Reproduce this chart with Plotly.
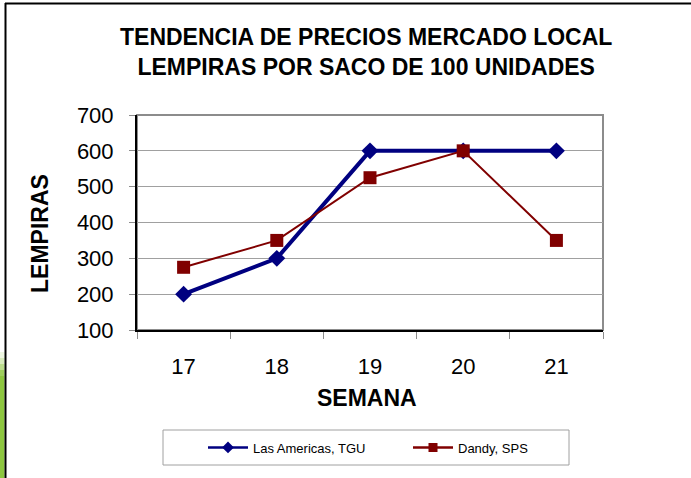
import plotly.graph_objects as go

semanas = ["17", "18", "19", "20", "21"]
las_americas = [200, 300, 600, 600, 600]
dandy = [275, 350, 525, 600, 350]
y_ticks = [100, 200, 300, 400, 500, 600, 700]
series_names = ["Las Americas, TGU", "Dandy, SPS"]

W, H = 691, 478
L, R, T, B = 137, 603, 115, 330
pw, ph = R - L, B - T

def px(x):
    return (x - L) / pw

def py(y):
    return (B - y) / ph

font = "Liberation Sans, Arial, sans-serif"
BLUE, RED = "#000080", "#800000"

fig = go.Figure()
fig.add_trace(go.Scatter(
    x=semanas, y=las_americas, name=series_names[0], showlegend=False,
    mode="lines+markers",
    line=dict(color=BLUE, width=4),
    marker=dict(symbol="diamond", size=13, color=BLUE),
))
fig.add_trace(go.Scatter(
    x=semanas, y=dandy, name=series_names[1], showlegend=False,
    mode="lines+markers",
    line=dict(color=RED, width=2),
    marker=dict(symbol="square", size=13, color=RED),
))
# legend entries (smaller symbols, as in the original legend)
fig.add_trace(go.Scatter(
    x=[None], y=[None], name=series_names[0], mode="lines+markers",
    line=dict(color=BLUE, width=2.5),
    marker=dict(symbol="diamond", size=9, color=BLUE),
))
fig.add_trace(go.Scatter(
    x=[None], y=[None], name=series_names[1], mode="lines+markers",
    line=dict(color=RED, width=2.5),
    marker=dict(symbol="square", size=9, color=RED),
))

shapes = [
    dict(type="rect", xref="paper", yref="paper", x0=0, x1=1, y0=0, y1=1,
         line=dict(color="#8c8c8c", width=2), layer="below"),
    dict(type="line", xref="paper", yref="paper", x0=px(5.5), x1=px(5.5),
         y0=py(3), y1=py(480), line=dict(color="black", width=2)),
    dict(type="line", xref="paper", yref="paper", x0=px(5), x1=px(700),
         y0=py(3.5), y1=py(3.5), line=dict(color="black", width=2)),
    dict(type="rect", xref="paper", yref="paper", x0=px(163), x1=px(569),
         y0=py(430), y1=py(465), line=dict(color="#a0a0a0", width=1),
         fillcolor="white"),
]
steps = [(352, 0.15), (358, 0.35), (364, 0.6), (370, 0.85), (376, 1.0)]
for i, (y0, op) in enumerate(steps):
    y1 = steps[i + 1][0] if i + 1 < len(steps) else 478
    shapes.append(dict(type="rect", xref="paper", yref="paper",
                       x0=px(0), x1=px(4.5), y0=py(y0), y1=py(y1),
                       line=dict(width=0), fillcolor="#8dc63f", opacity=op,
                       layer="below"))

fig.update_layout(
    width=W, height=H,
    margin=dict(l=L, r=W - R, t=T, b=H - B),
    paper_bgcolor="white", plot_bgcolor="white",
    font=dict(family=font, color="black"),
    showlegend=True,
    legend=dict(orientation="h", x=px(203), y=py(447.5), xanchor="left",
                yanchor="middle", font=dict(size=13, family=font),
                bgcolor="rgba(0,0,0,0)", entrywidth=150, itemwidth=40),
    shapes=shapes,
    annotations=[
        dict(text="<b>TENDENCIA DE PRECIOS MERCADO LOCAL<br>LEMPIRAS POR SACO DE 100 UNIDADES</b>",
             xref="paper", yref="paper", x=px(366), y=py(52), showarrow=False,
             font=dict(size=23, family=font), xanchor="center", yanchor="middle"),
        dict(text="<b>SEMANA</b>", xref="paper", yref="paper", x=px(367), y=py(398),
             showarrow=False, font=dict(size=23, family=font),
             xanchor="center", yanchor="middle"),
        dict(text="<b>LEMPIRAS</b>", xref="paper", yref="paper", x=px(40), y=py(234),
             showarrow=False, font=dict(size=23, family=font), textangle=-90,
             xanchor="center", yanchor="middle"),
    ],
)
fig.update_xaxes(
    type="category", range=[-0.5, 4.5], tickson="boundaries", ticks="outside",
    ticklen=7, tickcolor="#8c8c8c", showgrid=False, showline=True,
    linecolor="black", linewidth=2, tickfont=dict(size=22, family=font),
    zeroline=False, ticklabelstandoff=16,
)
fig.update_yaxes(
    range=[100, 700], tickvals=y_ticks, ticks="outside", ticklen=6,
    tickcolor="#8c8c8c", showgrid=True, gridcolor="#a0a0a0", gridwidth=1,
    showline=True, linecolor="black", linewidth=2,
    tickfont=dict(size=22, family=font), zeroline=False, ticklabelstandoff=11,
)

fig.write_html("out.html", config={"displayModeBar": False},
               post_script="document.body.style.margin='0';")
